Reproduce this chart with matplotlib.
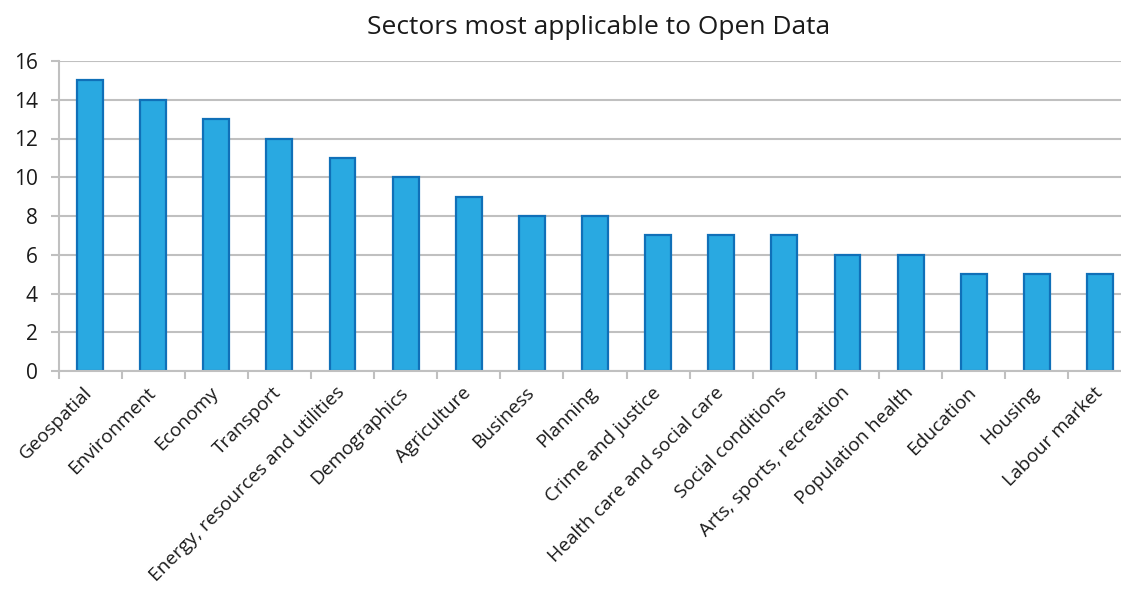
from matplotlib import pyplot as plt
from matplotlib import transforms
import numpy as np

plt.rcParams['font.family'] = ['Open Sans', 'DejaVu Sans']

sectors = ['Geospatial', 'Environment', 'Economy', 'Transport',
           'Energy, resources and utilities', 'Demographics', 'Agriculture',
           'Business', 'Planning', 'Crime and justice',
           'Health care and social care', 'Social conditions',
           'Arts, sports, recreation', 'Population health', 'Education',
           'Housing', 'Labour market']
counts = [15, 14, 13, 12, 11, 10, 9, 8, 8, 7, 7, 7, 6, 6, 5, 5, 5]

bar_color = '#29A9E1'
edge_color = '#1070B8'
grid_color = '#C0C0C0'

fig = plt.figure(figsize=(11.21, 5.89), dpi=100)
ax = fig.add_axes([58.5 / 1121, 1 - 371 / 589, 1073 / 1121, 310 / 589])
ax.set_axisbelow(True)

index = np.arange(len(sectors))
ax.bar(index, counts, 0.41, color=bar_color, edgecolor=edge_color, linewidth=1.6)

ax.set_xlim(-0.5, len(sectors) - 0.5)
ax.set_ylim(0, 16)
ax.set_yticks(np.arange(0, 17, 2))
ax.tick_params(axis='y', labelsize=15, length=6, width=1.5, color=grid_color, pad=9, labelcolor='#1a1a1a')

ax.set_xticks(index)
ax.set_xticklabels(sectors, rotation=45, ha='right', rotation_mode='anchor', fontsize=13.8, color='#1a1a1a')
ax.tick_params(axis='x', which='major', length=0, pad=9)
ax.set_xticks(np.arange(-0.5, len(sectors), 1), minor=True)
ax.tick_params(axis='x', which='minor', length=6, width=1.5, color=grid_color)

# nudge the rotated labels left so they end under the bar centres
shift = transforms.ScaledTranslation(-7 / 100, 0, fig.dpi_scale_trans)
for lbl in ax.get_xticklabels():
    lbl.set_transform(lbl.get_transform() + shift)

ax.grid(axis='y', color=grid_color, linewidth=1.5)
for side in ['top', 'right']:
    ax.spines[side].set_visible(False)
for side in ['left', 'bottom']:
    ax.spines[side].set_color(grid_color)
    ax.spines[side].set_linewidth(1.5)

fig.text(599 / 1121, 1 - 28 / 589, 'Sectors most applicable to Open Data',
         ha='center', va='center', fontsize=19, color='#1a1a1a')

plt.savefig('out.png', dpi=100)
